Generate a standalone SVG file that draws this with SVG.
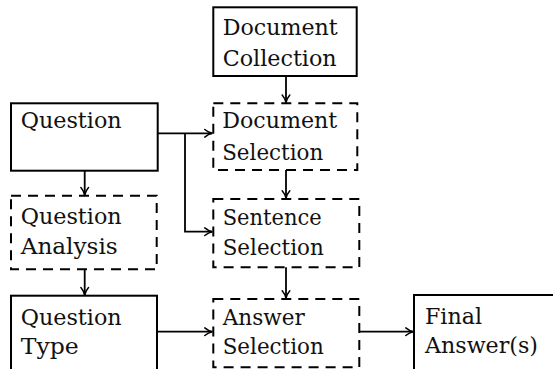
<svg xmlns="http://www.w3.org/2000/svg" width="553" height="369" viewBox="0 0 553 369">
<defs>
<style>
.box{fill:none;stroke:#000;stroke-width:2}
.dash{fill:none;stroke:#000;stroke-width:2;stroke-dasharray:10 7}
.con{fill:none;stroke:#000;stroke-width:1.8}
.t{font-family:'DejaVu Serif','Liberation Serif','Tinos','Times New Roman','Noto Serif','FreeSerif',serif;font-size:22px;fill:#111}
</style>
<marker id="arr" viewBox="0 0 10 10" refX="9" refY="5" markerWidth="10" markerHeight="10" markerUnits="userSpaceOnUse" orient="auto">
<path d="M1.5,1.2 Q5,4.2 9,5 Q5,5.8 1.5,8.8" fill="none" stroke="#000" stroke-width="1.5" stroke-linecap="round"/>
</marker>
</defs>
<rect width="553" height="369" fill="#fff"/>
<g id="connectors">
<path class="con" d="M286,76 V102.5" marker-end="url(#arr)"/>
<path class="con" d="M157.7,133.3 H212.3" marker-end="url(#arr)"/>
<path class="con" d="M185,133.3 V231.7 H212.3" marker-end="url(#arr)"/>
<path class="con" d="M84.7,170.7 V195" marker-end="url(#arr)"/>
<path class="con" d="M84.7,269.3 V295" marker-end="url(#arr)"/>
<path class="con" d="M286,170 V198.3" marker-end="url(#arr)"/>
<path class="con" d="M286,267.3 V298.3" marker-end="url(#arr)"/>
<path class="con" d="M157,331.7 H212.3" marker-end="url(#arr)"/>
<path class="con" d="M359.3,331.7 H413.3" marker-end="url(#arr)"/>
</g>
<g id="doc-collection">
<rect class="box" x="213.3" y="7.3" width="143.4" height="68.7"/>
<text class="t" x="222.7" y="35" textLength="115" lengthAdjust="spacingAndGlyphs">Document</text>
<text class="t" x="222.7" y="66" textLength="114" lengthAdjust="spacingAndGlyphs">Collection</text>
</g>
<g id="question">
<rect class="box" x="11" y="103.3" width="146.7" height="67.4"/>
<text class="t" x="20.7" y="127.5" textLength="101" lengthAdjust="spacingAndGlyphs">Question</text>
</g>
<g id="doc-selection">
<rect class="dash" x="213.3" y="103.3" width="144" height="66.7"/>
<text class="t" x="222.2" y="127.5" textLength="115" lengthAdjust="spacingAndGlyphs">Document</text>
<text class="t" x="222.2" y="160" textLength="101" lengthAdjust="spacingAndGlyphs">Selection</text>
</g>
<g id="question-analysis">
<rect class="dash" x="11" y="195.7" width="145.7" height="73.6"/>
<text class="t" x="20.7" y="224" textLength="101" lengthAdjust="spacingAndGlyphs">Question</text>
<text class="t" x="20.7" y="254" textLength="97" lengthAdjust="spacingAndGlyphs">Analysis</text>
</g>
<g id="sentence-selection">
<rect class="dash" x="213.3" y="199" width="146" height="68.3"/>
<text class="t" x="222.7" y="225" textLength="99" lengthAdjust="spacingAndGlyphs">Sentence</text>
<text class="t" x="222.7" y="255" textLength="101" lengthAdjust="spacingAndGlyphs">Selection</text>
</g>
<g id="question-type">
<rect class="box" x="11" y="295.7" width="146" height="90"/>
<text class="t" x="20.7" y="325" textLength="101" lengthAdjust="spacingAndGlyphs">Question</text>
<text class="t" x="20.7" y="353.5" textLength="58" lengthAdjust="spacingAndGlyphs">Type</text>
</g>
<g id="answer-selection">
<rect class="dash" x="213.3" y="299" width="146" height="68.3"/>
<text class="t" x="222.7" y="325" textLength="82" lengthAdjust="spacingAndGlyphs">Answer</text>
<text class="t" x="222.7" y="354" textLength="101" lengthAdjust="spacingAndGlyphs">Selection</text>
</g>
<g id="final-answer">
<rect class="box" x="414" y="295" width="160" height="90"/>
<text class="t" x="425" y="323.5" textLength="57" lengthAdjust="spacingAndGlyphs">Final</text>
<text class="t" x="425" y="353" textLength="113" lengthAdjust="spacingAndGlyphs">Answer(s)</text>
</g>
</svg>
